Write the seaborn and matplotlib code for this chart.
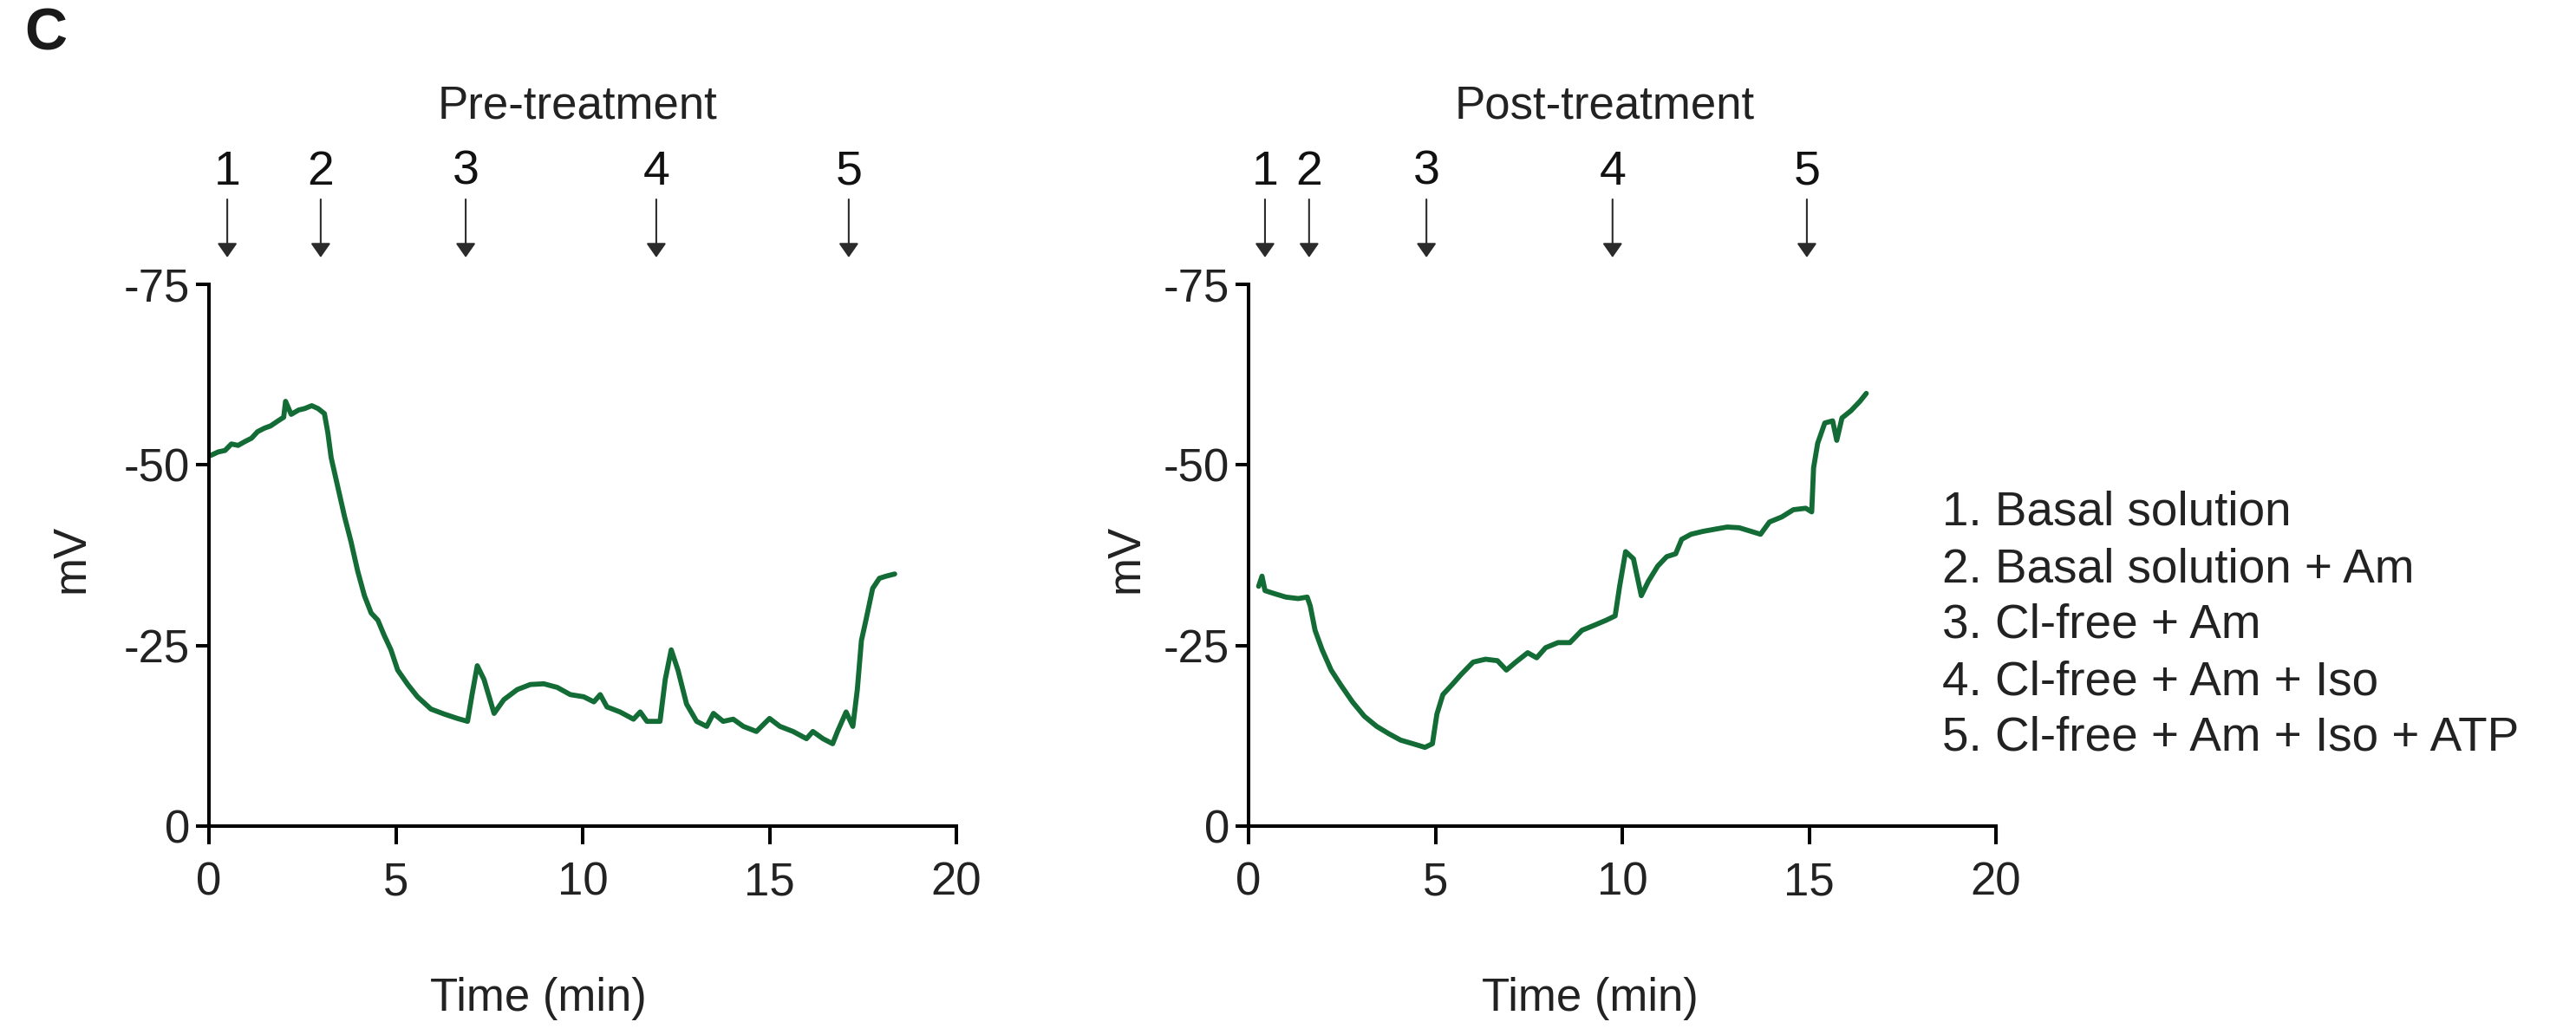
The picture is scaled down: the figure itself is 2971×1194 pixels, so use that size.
import matplotlib
matplotlib.use("Agg")
import matplotlib.pyplot as plt
import matplotlib.transforms as mtransforms
import seaborn as sns

# ---------------- data ----------------
pre_time = [0.04, 0.25, 0.43, 0.6, 0.78, 0.95, 1.14, 1.3, 1.49, 1.65, 1.85, 2.0, 2.05, 2.2, 2.4,
            2.56, 2.75, 2.92, 3.09, 3.18, 3.27, 3.45, 3.63, 3.8, 3.98, 4.16, 4.34, 4.52, 4.69,
            4.87, 5.05, 5.32, 5.58, 5.94, 6.3, 6.65, 6.92, 7.04, 7.18, 7.36, 7.63, 7.89, 8.25,
            8.6, 8.96, 9.32, 9.67, 10.03, 10.3, 10.47, 10.65, 11.0, 11.36, 11.54, 11.72, 12.07,
            12.21, 12.37, 12.55, 12.78, 13.05, 13.32, 13.5, 13.76, 14.03, 14.3, 14.65, 15.0,
            15.28, 15.63, 15.99, 16.16, 16.43, 16.69, 16.82, 17.05, 17.23, 17.35, 17.46, 17.58,
            17.76, 17.94, 18.12, 18.35]
pre_mv = [-51.3, -51.8, -52.0, -52.9, -52.7, -53.2, -53.7, -54.6, -55.1, -55.4, -56.1, -56.6, -58.8,
          -57.0, -57.6, -57.8, -58.2, -57.8, -57.1, -54.5, -51.0, -46.9, -42.8, -39.4, -35.3, -31.9,
          -29.5, -28.5, -26.4, -24.4, -21.6, -19.6, -17.9, -16.2, -15.5, -14.9, -14.5, -18.2, -22.2,
          -20.3, -15.6, -17.5, -18.9, -19.6, -19.7, -19.2, -18.2, -17.9, -17.2, -18.2, -16.5, -15.8,
          -14.8, -15.8, -14.5, -14.5, -20.3, -24.4, -21.6, -16.9, -14.5, -13.8, -15.6, -14.5, -14.8,
          -13.8, -13.1, -14.9, -13.8, -13.1, -12.1, -13.1, -12.1, -11.4, -13.1, -15.8, -13.8, -18.9,
          -25.7, -28.5, -32.9, -34.3, -34.6, -34.9]

post_time = [0.27, 0.36, 0.44, 0.68, 1.0, 1.33, 1.57, 1.65, 1.78, 1.97, 2.21, 2.46, 2.78, 3.1, 3.43,
             3.75, 4.07, 4.4, 4.72, 4.92, 5.04, 5.2, 5.45, 5.69, 6.01, 6.34, 6.66, 6.9, 7.15, 7.47,
             7.71, 7.95, 8.28, 8.6, 8.92, 9.25, 9.57, 9.81, 9.93, 10.09, 10.3, 10.51, 10.7, 10.95,
             11.19, 11.43, 11.59, 11.84, 12.16, 12.48, 12.81, 13.13, 13.45, 13.7, 13.94, 14.27,
             14.58, 14.91, 15.07, 15.12, 15.23, 15.42, 15.63, 15.74, 15.88, 16.12, 16.36, 16.53]
post_mv = [-33.2, -34.6, -32.6, -32.2, -31.7, -31.5, -31.7, -30.5, -27.1, -24.4, -21.6, -19.6, -17.2,
           -15.2, -13.8, -12.8, -11.9, -11.4, -10.9, -11.4, -15.5, -18.2, -19.6, -21.0, -22.7, -23.1,
           -22.9, -21.6, -22.7, -24.0, -23.3, -24.7, -25.4, -25.4, -27.1, -27.8, -28.5, -29.1, -33.2,
           -38.0, -37.0, -31.9, -33.9, -36.0, -37.3, -37.7, -39.7, -40.4, -40.8, -41.1, -41.4, -41.3,
           -40.8, -40.4, -42.1, -42.8, -43.8, -44.0, -43.5, -49.6, -53.0, -55.8, -56.1, -53.4, -56.5,
           -57.5, -58.8, -59.9]

pre_arrows = [0.49, 2.99, 6.87, 11.97, 17.12]
post_arrows = [0.44, 1.62, 4.76, 9.74, 14.94]
arrow_labels = ["1", "2", "3", "4", "5"]

panel_titles = ["Pre-treatment", "Post-treatment"]
x_ticks = [0, 5, 10, 15, 20]
y_ticks = [-75, -50, -25, 0]
y_ticklabels = ["-75", "-50", "-25", "0"]
x_label = "Time (min)"
y_label = "mV"
legend_lines = ["1. Basal solution",
                "2. Basal solution + Am",
                "3. Cl-free + Am",
                "4. Cl-free + Am + Iso",
                "5. Cl-free + Am + Iso + ATP"]

# ---------------- style ----------------
sns.set_theme(style="ticks")
plt.rcParams["font.family"] = ["Liberation Sans", "DejaVu Sans"]
plt.rcParams["axes.unicode_minus"] = False

W, H = 2971, 1194
fig = plt.figure(figsize=(W / 100, H / 100), dpi=100)
fig.patch.set_facecolor("white")

line_color = "#136b35"
text_color = "#222222"
axis_lw = 2.9

axes_left = [241, 1440]
title_x = [0.493, 0.476]
xlabel_x = [0.441, 0.457]
ylabel_x = [-0.184, -0.164]
arrows_sets = [pre_arrows, post_arrows]
traces = [(pre_time, pre_mv), (post_time, post_mv)]

for i in range(2):
    ax = fig.add_axes([axes_left[i] / W, 1 - 953 / H, 862 / W, 625 / H])
    t, v = traces[i]
    sns.lineplot(x=t, y=v, ax=ax, color=line_color, linewidth=4.2,
                 estimator=None, sort=False)
    ax.set_xlim(0, 20)
    ax.set_ylim(0, -75)
    ax.set_xticks(x_ticks)
    ax.set_xticklabels([str(x) for x in x_ticks])
    ax.set_yticks(y_ticks)
    ax.set_yticklabels(y_ticklabels)
    sns.despine(ax=ax)
    for s in ["left", "bottom"]:
        ax.spines[s].set_linewidth(axis_lw)
        ax.spines[s].set_color("black")
    ax.tick_params(axis="x", length=15, width=axis_lw, pad=14, labelsize=38,
                   colors="black", labelcolor=text_color)
    ax.tick_params(axis="y", length=11, width=axis_lw, pad=5, labelsize=38,
                   colors="black", labelcolor=text_color)
    ax.set_facecolor("white")

    ax.set_xlabel(x_label, fontsize=38, color=text_color)
    ax.xaxis.label.set(va="center", ha="center")
    ax.xaxis.set_label_coords(xlabel_x[i], -0.318)
    ax.set_ylabel(y_label, fontsize=38, color=text_color)
    ax.yaxis.label.set(va="center", ha="center")
    ax.yaxis.set_label_coords(ylabel_x[i], 0.494)

    trans = mtransforms.blended_transform_factory(ax.transData, ax.transAxes)
    ax.text(title_x[i], 1.329, panel_titles[i], transform=ax.transAxes,
            ha="center", va="center", fontsize=38, color=text_color)
    for xa, lab in zip(arrows_sets[i], arrow_labels):
        ax.annotate("", xy=(xa, 1.0496), xytext=(xa, 1.1568),
                    xycoords=trans, textcoords=trans, annotation_clip=False,
                    arrowprops=dict(arrowstyle="-|>,head_length=0.5,head_width=0.35",
                                    mutation_scale=20, lw=1.5, color="#2b2b2b",
                                    shrinkA=0, shrinkB=0))
        ax.text(xa, 1.207, lab, transform=trans, ha="center", va="center",
                fontsize=40, color="#111111")

# panel letter
fig.text(53 / W, 1 - 40 / H, "C", ha="center", va="center", fontsize=49,
         fontweight="bold", color="#1a1a1a")

# legend text block
legend_y = [592, 657, 721, 787, 852]
for yy, txt in zip(legend_y, legend_lines):
    fig.text(2240 / W, 1 - yy / H, txt, ha="left", va="center", fontsize=39.5,
             color=text_color)

fig.savefig("out.png", dpi=100, facecolor="white")
